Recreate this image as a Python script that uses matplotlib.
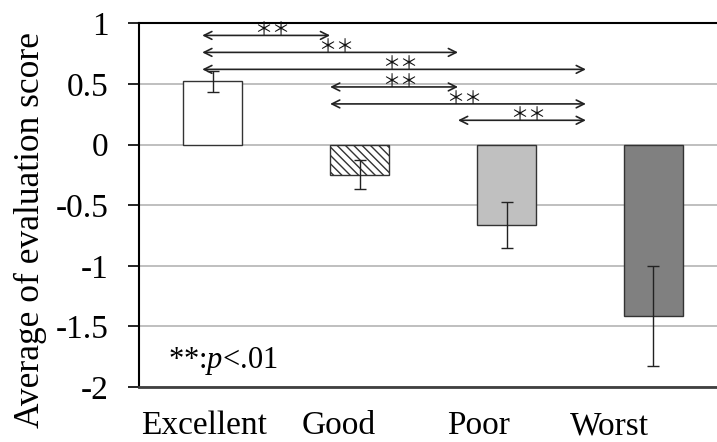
import numpy as np
import matplotlib
matplotlib.use('Agg')
import matplotlib.pyplot as plt

plt.rcParams['font.family'] = ['Liberation Serif', 'DejaVu Serif']
plt.rcParams['mathtext.fontset'] = 'custom'
plt.rcParams['mathtext.it'] = 'Liberation Serif:italic'
plt.rcParams['mathtext.rm'] = 'Liberation Serif'
plt.rcParams['hatch.linewidth'] = 1.0

# data
categories = ['Excellent', 'Good', 'Poor', 'Worst']
means = [0.52, -0.25, -0.66, -1.415]
errors = [0.09, 0.12, 0.19, 0.415]
label_pos = [-0.06, 0.86, 1.81, 2.70]

# significance brackets: (start, end, height)
sig_start = [-0.07, -0.07, -0.07, 0.80, 0.80, 1.67]
sig_end = [0.80, 1.67, 2.54, 1.67, 2.54, 2.54]
sig_y = [0.90, 0.76, 0.62, 0.475, 0.335, 0.20]

fills = ['white', 'white', '#c0c0c0', '#808080']
hatches = [None, '\\\\\\\\', None, None]

fig = plt.figure(figsize=(7.17, 4.42), dpi=100)
ax = fig.add_axes([0.1939, 0.1244, 0.8061, 0.8229])

x = np.arange(len(categories))
bars = ax.bar(x, means, width=0.40, color=fills, edgecolor='#333333', linewidth=1.0, zorder=3)
for b, h in zip(bars, hatches):
    if h:
        b.set_hatch(h)
ax.errorbar(x, means, yerr=errors, fmt='none', ecolor='#222222', elinewidth=1.0, capsize=4, capthick=1.0, zorder=4)

ax.set_xlim(-0.5, 3.432)
ax.set_ylim(-2, 1)
ax.set_yticks(np.arange(-2, 1.01, 0.5))
ax.set_yticklabels(['-2', '-1.5', '-1', '-0.5', '0', '0.5', '1'])
ax.yaxis.grid(True, color='#b4b4b4', linewidth=1.2, zorder=0)
ax.set_axisbelow(True)
ax.tick_params(axis='y', length=8, width=1.2, direction='out', pad=14, labelsize=24)
ax.set_xticks(label_pos)
ax.set_xticklabels(categories)
ax.tick_params(axis='x', length=0, pad=17, labelsize=24)

ax.spines['right'].set_visible(False)
ax.spines['top'].set_color('black')
ax.spines['top'].set_linewidth(1.5)
ax.spines['left'].set_linewidth(1.5)
ax.spines['bottom'].set_color('#404040')
ax.spines['bottom'].set_linewidth(2)

ax.set_ylabel('Average of evaluation score', fontsize=25.5)
ax.yaxis.set_label_coords(-0.159, 0.432)

for s, e, y in zip(sig_start, sig_end, sig_y):
    ax.annotate('', xy=(e, y), xytext=(s, y),
                arrowprops=dict(arrowstyle='<->', color='#222222', lw=1.2,
                                shrinkA=0, shrinkB=0, mutation_scale=14), zorder=5)
    ax.text((s + e) / 2 + 0.04, y, '＊＊', ha='center', va='baseline',
            fontsize=13, family=['Noto Sans CJK JP', 'DejaVu Sans'], color='#111111', zorder=5)

ax.text(-0.30, -1.844, '**:$p$<.01', fontsize=22, ha='left', va='baseline')

fig.savefig('out.png', dpi=100)
